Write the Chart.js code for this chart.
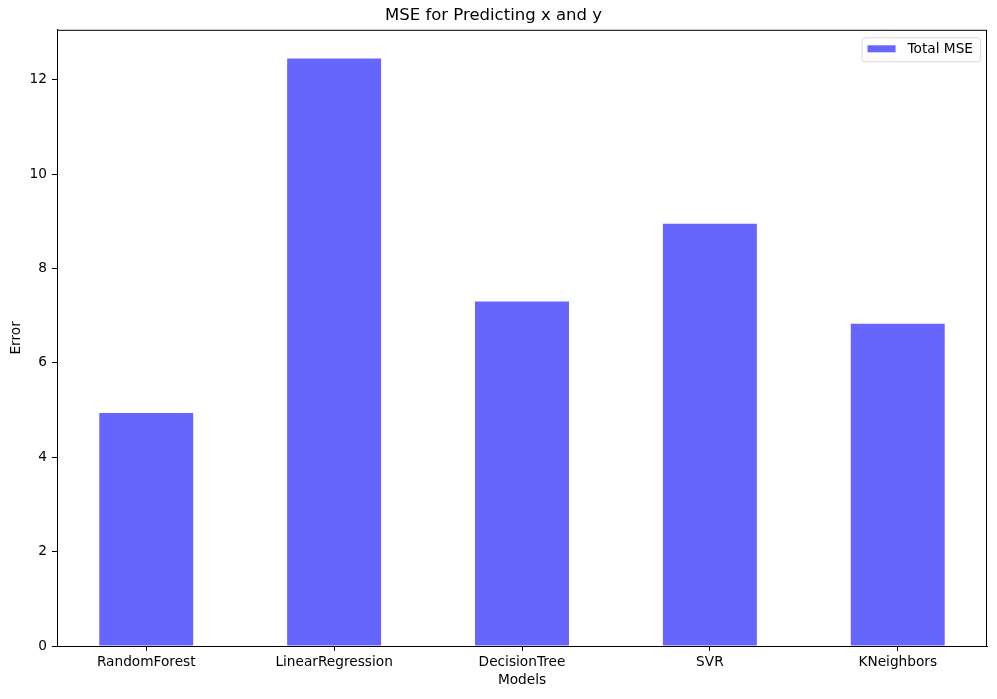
<!DOCTYPE html>
<html>
<head>
<meta charset="utf-8">
<script src="https://cdn.jsdelivr.net/npm/chart.js@4"></script>
<style>
  html, body { margin: 0; padding: 0; background: #fff; }
  #wrap { width: 997px; height: 699px; }
</style>
</head>
<body>
<div id="wrap"><canvas id="mse"></canvas></div>
<script>
const models = ["RandomForest", "LinearRegression", "DecisionTree", "SVR", "KNeighbors"];
const totalMse = [4.94, 12.45, 7.30, 8.95, 6.83];
const yTicks = [0, 2, 4, 6, 8, 10, 12];

const barColor = "#6666ff";

// frame round the plot + legend box in the top right corner
const frameAndLegend = {
  id: "frameAndLegend",
  afterDraw(chart) {
    const { ctx, chartArea } = chart;
    ctx.save();
    ctx.strokeStyle = "#000";
    ctx.lineWidth = 1;
    ctx.strokeRect(chartArea.left + 0.5, chartArea.top + 0.5,
      chartArea.right - chartArea.left - 1, chartArea.bottom - chartArea.top);

    const label = chart.data.datasets[0].label;
    ctx.font = "13.7px 'DejaVu Sans'";
    const tw = ctx.measureText(label).width;
    const w = 6 + 28 + 12 + tw + 7;
    const h = 24;
    const x = chartArea.right - 7 - w;
    const y = chartArea.top + 7.5;
    ctx.beginPath();
    ctx.roundRect(x + 0.5, y + 0.5, w, h, 3);
    ctx.fillStyle = "rgba(255,255,255,0.8)";
    ctx.fill();
    ctx.strokeStyle = "#d9d9d9";
    ctx.stroke();
    ctx.fillStyle = barColor;
    ctx.fillRect(x + 6, y + 8, 28, 7);
    ctx.fillStyle = "#000";
    ctx.textBaseline = "middle";
    ctx.fillText(label, x + 46, y + 12);
    ctx.restore();
  }
};

new Chart(document.getElementById("mse"), {
  type: "bar",
  data: {
    datasets: [
      {
        label: "Total MSE",
        data: totalMse.map((v, i) => ({ x: i, y: v })),
        backgroundColor: barColor,
        borderWidth: 0,
        barPercentage: 0.5,
        categoryPercentage: 1,
      },
    ],
  },
  options: {
    responsive: true,
    maintainAspectRatio: false,
    animation: false,
    layout: { padding: { left: 0, right: 10, top: 0, bottom: 0 } },
    plugins: {
      legend: { display: false },
      tooltip: { enabled: false },
      title: {
        display: true,
        text: "MSE for Predicting x and y",
        color: "#000",
        font: { family: "DejaVu Sans", size: 16.5, weight: "normal" },
        padding: { top: 6, bottom: 4 },
      },
    },
    scales: {
      x: {
        type: "linear",
        min: -0.475,
        max: 4.475,
        offset: false,
        afterBuildTicks: (scale) => {
          scale.ticks = models.map((m, i) => ({ value: i }));
        },
        afterFit: (scale) => { scale.height = 53; },
        ticks: {
          color: "#000",
          font: { family: "DejaVu Sans", size: 13.7 },
          padding: 3,
          maxRotation: 0,
          autoSkip: false,
          callback: (v) => models[v],
        },
        grid: { offset: false, drawOnChartArea: false, drawTicks: true, tickLength: 5, tickColor: "#000" },
        border: { display: true, color: "#000", width: 1 },
        title: {
          display: true,
          text: "Models",
          color: "#000",
          font: { family: "DejaVu Sans", size: 13.7 },
          padding: { top: 0, bottom: 10 },
        },
      },
      y: {
        min: 0,
        max: 13.06,
        afterBuildTicks: (scale) => {
          scale.ticks = yTicks.map((v) => ({ value: v }));
        },
        afterFit: (scale) => { scale.width = 57; },
        ticks: {
          color: "#000",
          font: { family: "DejaVu Sans", size: 13.7 },
          padding: 5,
        },
        grid: { drawOnChartArea: false, drawTicks: true, tickLength: 5, tickColor: "#000" },
        border: { display: true, color: "#000", width: 1 },
        title: {
          display: true,
          text: "Error",
          color: "#000",
          font: { family: "DejaVu Sans", size: 13.7 },
          padding: { top: 8, bottom: 0 },
        },
      },
    },
  },
  plugins: [frameAndLegend],
});
</script>
</body>
</html>
